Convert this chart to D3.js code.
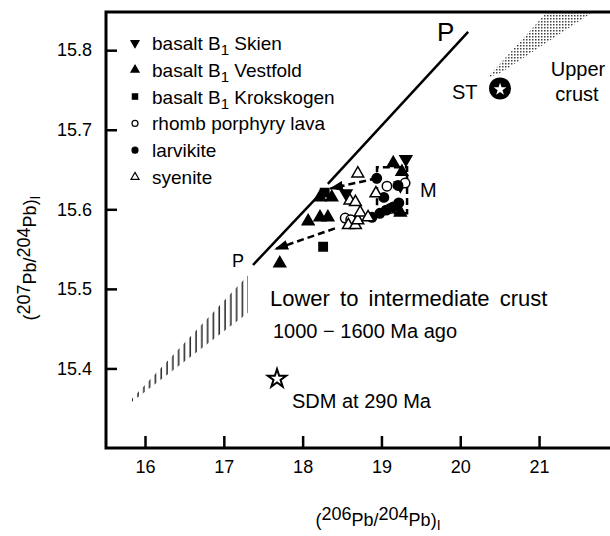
<!DOCTYPE html>
<html>
<head>
<meta charset="utf-8">
<script src="https://cdn.jsdelivr.net/npm/d3@7"></script>
<style>
  body { margin: 0; background: #fff; }
  text { font-family: "Liberation Sans", Arial, sans-serif; fill: #000; }
</style>
</head>
<body>
<div id="chart"></div>
<script>
// data: [206Pb/204Pb, 207Pb/204Pb]
var skien = [[19.31, 15.663], [18.55, 15.620], [19.24, 15.630]];
var vestfold = [[17.71, 15.532], [18.07, 15.585], [18.22, 15.590], [18.32, 15.590],
  [18.22, 15.615], [18.37, 15.615], [19.15, 15.658], [19.26, 15.647], [19.24, 15.596]];
var krokskogen = [[18.26, 15.553], [18.28, 15.621]];
var rhomb = [[19.07, 15.629], [18.54, 15.589], [19.11, 15.601], [18.61, 15.587], [19.30, 15.633]];
var larvikite = [[18.94, 15.639], [19.03, 15.615], [19.22, 15.608], [19.15, 15.603],
  [19.06, 15.599], [18.98, 15.595], [18.88, 15.590], [19.21, 15.630]];
var syenite = [[18.70, 15.645], [18.93, 15.620], [18.60, 15.611], [18.67, 15.609],
  [18.58, 15.580], [18.67, 15.580], [18.70, 15.586], [18.73, 15.596], [18.83, 15.590]];

var xTicks = [16, 17, 18, 19, 20, 21];
var yTicks = [15.4, 15.5, 15.6, 15.7, 15.8];

// reference points and model lines
var stPoint = [20.505, 15.752];
var sdmPoint = [17.675, 15.387];
var lineP1 = [[17.37, 15.530], [18.19, 15.616]];
var lineP2 = [[18.32, 15.632], [20.10, 15.823]];
var arrowA = [[18.94, 15.639], [18.35, 15.626]];
var arrowB = [[18.41, 15.576], [17.65, 15.550]];
var boxM = [[18.944, 15.605], [18.944, 15.653], [19.325, 15.653], [19.325, 15.595], [19.071, 15.595]];
var lowerBand = [[15.835, 15.362], [17.307, 15.517], [17.307, 15.470], [15.835, 15.358]];
var upperBand = [[20.34, 15.765], [21.101, 15.848], [21.685, 15.848], [20.52, 15.772]];

var svgWidth = 610;
var svgHeight = 536;
var margin = { top: 12, left: 106, right: 0, bottom: 88 };
var width = svgWidth - margin.left - margin.right;
var height = svgHeight - margin.top - margin.bottom;

var svg = d3.select("#chart").append("svg")
  .attr("width", svgWidth)
  .attr("height", svgHeight);

var defs = svg.append("defs");
var hatch = defs.append("pattern").attr("id", "hatch")
  .attr("patternUnits", "userSpaceOnUse").attr("width", 5.8).attr("height", 10);
hatch.append("rect").attr("x", 2.4).attr("y", 0).attr("width", 1.3).attr("height", 10).attr("fill", "#000");

var dots = defs.append("pattern").attr("id", "dots")
  .attr("patternUnits", "userSpaceOnUse").attr("width", 3).attr("height", 3);
dots.append("rect").attr("width", 1.5).attr("height", 1.5).attr("fill", "#000");

defs.append("marker").attr("id", "head")
  .attr("markerUnits", "userSpaceOnUse")
  .attr("viewBox", "0 0 14 10").attr("refX", 13).attr("refY", 5)
  .attr("markerWidth", 14).attr("markerHeight", 10).attr("orient", "auto")
  .append("path").attr("d", "M0,0L14,5L0,10Z").attr("fill", "#000");

var chartGroup = svg.append("g")
  .attr("transform", `translate(${margin.left}, ${margin.top})`);

var xScale = d3.scaleLinear().domain([15.505, 21.9]).range([0, width]);
var yScale = d3.scaleLinear().domain([15.30, 15.848]).range([height, 0]);

var xAxis = d3.axisBottom(xScale).tickValues(xTicks).tickSize(-12).tickPadding(12).tickFormat(d3.format("d"));
var yAxis = d3.axisLeft(yScale).tickValues(yTicks).tickSize(-11).tickPadding(14).tickFormat(d3.format(".1f"));

var gx = chartGroup.append("g").attr("transform", `translate(0, ${height})`).call(xAxis);
var gy = chartGroup.append("g").call(yAxis);
[gx, gy].forEach(function(g) {
  g.select(".domain").remove();
  g.selectAll(".tick line").attr("stroke", "#000").attr("stroke-width", 2.5);
  g.selectAll(".tick text").attr("font-size", 18).attr("font-family", "Liberation Sans, Arial, sans-serif");
});

// frame: left, top, bottom
chartGroup.append("path")
  .attr("d", `M${width},0H0V${height}H${width}`)
  .attr("fill", "none").attr("stroke", "#000").attr("stroke-width", 3);

var line = d3.line().x(d => xScale(d[0])).y(d => yScale(d[1]));
var poly = function(pts) { return line(pts) + "Z"; };

chartGroup.append("path").attr("d", poly(lowerBand)).attr("fill", "url(#hatch)");
chartGroup.append("path").attr("d", poly(upperBand)).attr("fill", "url(#dots)").attr("opacity", 0.75);

[lineP1, lineP2].forEach(function(seg) {
  chartGroup.append("path").attr("d", line(seg))
    .attr("fill", "none").attr("stroke", "#000").attr("stroke-width", 2.5);
});

[arrowA, arrowB].forEach(function(seg) {
  chartGroup.append("path").attr("d", line(seg))
    .attr("fill", "none").attr("stroke", "#000").attr("stroke-width", 2.5)
    .attr("stroke-dasharray", "7,4").attr("marker-end", "url(#head)");
});
chartGroup.append("path").attr("d", line(boxM))
  .attr("fill", "none").attr("stroke", "#000").attr("stroke-width", 2.5)
  .attr("stroke-dasharray", "7,4");

var series = [
  { name: "Skien", data: skien, type: d3.symbolTriangle, rot: 180, fill: "#000", size: 60 },
  { name: "Vestfold", data: vestfold, type: d3.symbolTriangle, rot: 0, fill: "#000", size: 60 },
  { name: "Krokskogen", data: krokskogen, type: d3.symbolSquare, rot: 0, fill: "#000", size: 70 },
  { name: "rhomb", data: rhomb, type: d3.symbolCircle, rot: 0, fill: "#fff", size: 70 },
  { name: "larvikite", data: larvikite, type: d3.symbolCircle, rot: 0, fill: "#000", size: 70 },
  { name: "syenite", data: syenite, type: d3.symbolTriangle, rot: 0, fill: "#fff", size: 60 }
];

series.forEach(function(s) {
  chartGroup.selectAll(null)
    .data(s.data)
    .enter()
    .append("path")
    .attr("d", d3.symbol(s.type, s.size))
    .attr("transform", d => `translate(${xScale(d[0])},${yScale(d[1])}) rotate(${s.rot})`)
    .attr("fill", s.fill)
    .attr("stroke", "#000")
    .attr("stroke-width", 1.5);
});

// ST and SDM stars
chartGroup.append("circle")
  .attr("cx", xScale(stPoint[0])).attr("cy", yScale(stPoint[1])).attr("r", 11).attr("fill", "#000");
chartGroup.append("path")
  .attr("d", d3.symbol(d3.symbolStar, 50))
  .attr("transform", `translate(${xScale(stPoint[0])},${yScale(stPoint[1]) + 1})`)
  .attr("fill", "#fff");
chartGroup.append("path")
  .attr("d", d3.symbol(d3.symbolStar, 105))
  .attr("transform", `translate(${xScale(sdmPoint[0])},${yScale(sdmPoint[1])})`)
  .attr("fill", "#fff").attr("stroke", "#000").attr("stroke-width", 2);

// legend
var legendLabels = [
  ["basalt B", "1", " Skien"],
  ["basalt B", "1", " Vestfold"],
  ["basalt B", "1", " Krokskogen"],
  ["rhomb porphyry lava", "", ""],
  ["larvikite", "", ""],
  ["syenite", "", ""]
];
var legend = svg.append("g").attr("transform", "translate(135, 43)");
series.forEach(function(s, i) {
  var row = legend.append("g").attr("transform", `translate(0, ${i * 26.8})`);
  row.append("path")
    .attr("d", d3.symbol(s.type, 28))
    .attr("transform", `rotate(${s.rot})`)
    .attr("fill", s.fill).attr("stroke", "#000").attr("stroke-width", 1.2);
  var t = row.append("text").attr("x", 17).attr("y", 7).attr("font-size", 19);
  var lab = legendLabels[i];
  t.append("tspan").text(lab[0]);
  if (lab[1]) {
    t.append("tspan").attr("dy", 5).attr("font-size", 15).text(lab[1]);
    t.append("tspan").attr("dy", -5).text(lab[2]);
  }
});

// annotations
function label(txt, px, py, size, anchor) {
  return svg.append("text").attr("x", px).attr("y", py).attr("font-size", size)
    .attr("text-anchor", anchor || "start").text(txt);
}
label("P", 437, 41, 26);
label("P", 232, 267, 18);
label("ST", 452, 99, 20);
label("Upper", 578, 76, 20, "middle");
label("crust", 577, 101, 20, "middle");
label("M", 420, 197, 20);
label("Lower to intermediate crust", 270, 306, 22).attr("word-spacing", 4);
label("1000  \u2212  1600 Ma  ago", 273, 338, 20);
label("SDM at 290 Ma", 292, 408, 20);

// axis titles
var xt = svg.append("text").attr("x", 378).attr("y", 526).attr("font-size", 18).attr("text-anchor", "middle");
xt.append("tspan").text("(");
xt.append("tspan").attr("dy", -6).text("206");
xt.append("tspan").attr("dy", 6).text("Pb/");
xt.append("tspan").attr("dy", -6).text("204");
xt.append("tspan").attr("dy", 6).text("Pb)");
xt.append("tspan").attr("dy", 4).attr("font-size", 14).text("I");

var yt = svg.append("text").attr("transform", "translate(36, 258) rotate(-90)").attr("font-size", 18).attr("text-anchor", "middle");
yt.append("tspan").text("(");
yt.append("tspan").attr("dy", -6).text("207");
yt.append("tspan").attr("dy", 6).text("Pb/");
yt.append("tspan").attr("dy", -6).text("204");
yt.append("tspan").attr("dy", 6).text("Pb)");
yt.append("tspan").attr("dy", 4).attr("font-size", 14).text("I");
</script>
</body>
</html>
